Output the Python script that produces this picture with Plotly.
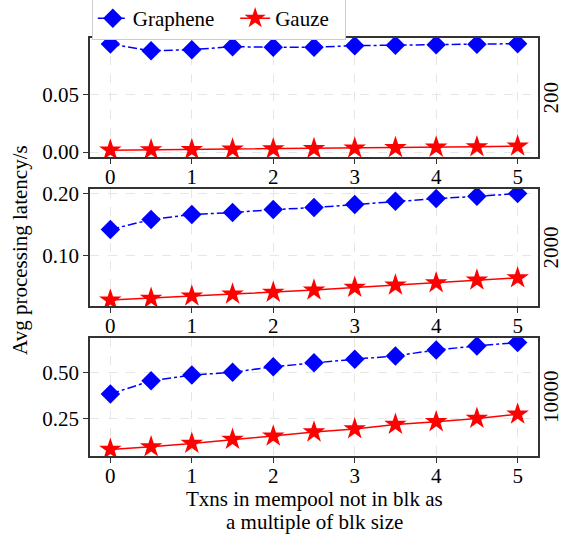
import plotly.graph_objects as go

x_vals = [0, 0.5, 1, 1.5, 2, 2.5, 3, 3.5, 4, 4.5, 5]
graphene_200 = [0.0933, 0.0875, 0.0884, 0.0910, 0.0905, 0.0905, 0.0919, 0.0922, 0.0927, 0.0930, 0.0936]
gauze_200 = [0.0017, 0.0020, 0.0022, 0.0025, 0.0028, 0.0030, 0.0034, 0.0038, 0.0042, 0.0046, 0.0052]
graphene_2000 = [0.1417, 0.1579, 0.1660, 0.1692, 0.1740, 0.1773, 0.1822, 0.1875, 0.1919, 0.1956, 0.2000]
gauze_2000 = [0.0271, 0.0298, 0.0336, 0.0368, 0.0395, 0.0433, 0.0476, 0.0514, 0.0551, 0.0595, 0.0632]
graphene_10000 = [0.382, 0.454, 0.485, 0.500, 0.530, 0.552, 0.571, 0.589, 0.621, 0.643, 0.661]
gauze_10000 = [0.0815, 0.0957, 0.114, 0.136, 0.154, 0.176, 0.193, 0.217, 0.2315, 0.250, 0.273]
panel_labels = ["200", "2000", "10000"]
ytick_vals = [[0.0, 0.05], [0.10, 0.20], [0.25, 0.50]]
ytick_text = [["0.00", "0.05"], ["0.10", "0.20"], ["0.25", "0.50"]]
y_ranges = [[-0.0042, 0.0985], [0.0175, 0.2075], [0.046, 0.686]]
xtick_vals = [0, 1, 2, 3, 4, 5]
x_title_lines = ["Txns in mempool not in blk as", "a multiple of blk size"]

FONT = "Liberation Serif"
FS = 21
domains = [[0.7153, 1.0], [0.3589, 0.6388], [0.0, 0.2823]]
NBSP = "\u00a0"

fig = go.Figure()
series = [(graphene_200, gauze_200), (graphene_2000, gauze_2000), (graphene_10000, gauze_10000)]
for i, (g, z) in enumerate(series):
    sfx = "" if i == 0 else str(i + 1)
    fig.add_trace(go.Scatter(
        x=x_vals, y=g, mode="lines+markers", name="Graphene" + NBSP * 3,
        line=dict(color="#0000ff", width=1.5, dash="dashdot"),
        marker=dict(symbol="diamond", size=15, color="#0000ff"),
        xaxis="x" + sfx, yaxis="y" + sfx, showlegend=(i == 0)))
    fig.add_trace(go.Scatter(
        x=x_vals, y=z, mode="lines+markers", name="Gauze" + NBSP * 2,
        line=dict(color="#ff0000", width=1.5),
        marker=dict(symbol="star", size=17, color="#ff0000"),
        xaxis="x" + sfx, yaxis="y" + sfx, showlegend=(i == 0)))

layout = dict(
    width=562, height=536,
    margin=dict(l=90, r=24, t=38, b=80, autoexpand=False),
    plot_bgcolor="white", paper_bgcolor="white",
    font=dict(family=FONT, size=FS, color="black"),
    legend=dict(orientation="h", x=0.004, xanchor="left", y=0.995, yanchor="bottom",
                bordercolor="#cccccc", borderwidth=1, bgcolor="white",
                font=dict(family=FONT, size=FS), itemwidth=30, tracegroupgap=0),
    showlegend=True,
)
for i in range(3):
    sfx = "" if i == 0 else str(i + 1)
    layout["xaxis" + sfx] = dict(
        domain=[0, 1], anchor="y" + sfx, range=[-0.25, 5.25],
        tickvals=xtick_vals, ticks="outside", ticklen=5, tickwidth=1.2, tickcolor="#333",
        ticklabelstandoff=-5,
        showline=True, linecolor="#333", linewidth=1.6, mirror=True,
        showgrid=True, gridcolor="#e6e6e6", griddash="dash", gridwidth=0.8,
        zeroline=False, tickfont=dict(family=FONT, size=FS))
    layout["yaxis" + sfx] = dict(
        domain=domains[i], anchor="x" + sfx, range=y_ranges[i],
        tickvals=ytick_vals[i], ticktext=ytick_text[i],
        ticks="outside", ticklen=5, tickwidth=1.2, tickcolor="#333",
        showline=True, linecolor="#333", linewidth=1.6, mirror=True,
        showgrid=True, gridcolor="#e6e6e6", griddash="dash", gridwidth=0.8,
        zeroline=False, tickfont=dict(family=FONT, size=FS))
fig.update_layout(**layout)

annotations = []
for i in range(3):
    d = domains[i]
    annotations.append(dict(
        text=panel_labels[i], xref="paper", yref="paper",
        x=1.0, xanchor="center", xshift=13, y=(d[0] + d[1]) / 2, yanchor="middle",
        textangle=-90, showarrow=False, font=dict(family=FONT, size=FS)))
annotations.append(dict(
    text="Avg processing latency/s", xref="paper", yref="paper",
    x=0, xanchor="center", xshift=-70, y=0.493, yanchor="middle",
    textangle=-90, showarrow=False, font=dict(family=FONT, size=FS)))
for j, line in enumerate(x_title_lines):
    annotations.append(dict(
        text=line, xref="paper", yref="paper",
        x=0.5, xanchor="center", y=0, yanchor="middle", yshift=-43 - 23 * j,
        showarrow=False, font=dict(family=FONT, size=FS)))
fig.update_layout(annotations=annotations)

fig.write_html("out.html")
